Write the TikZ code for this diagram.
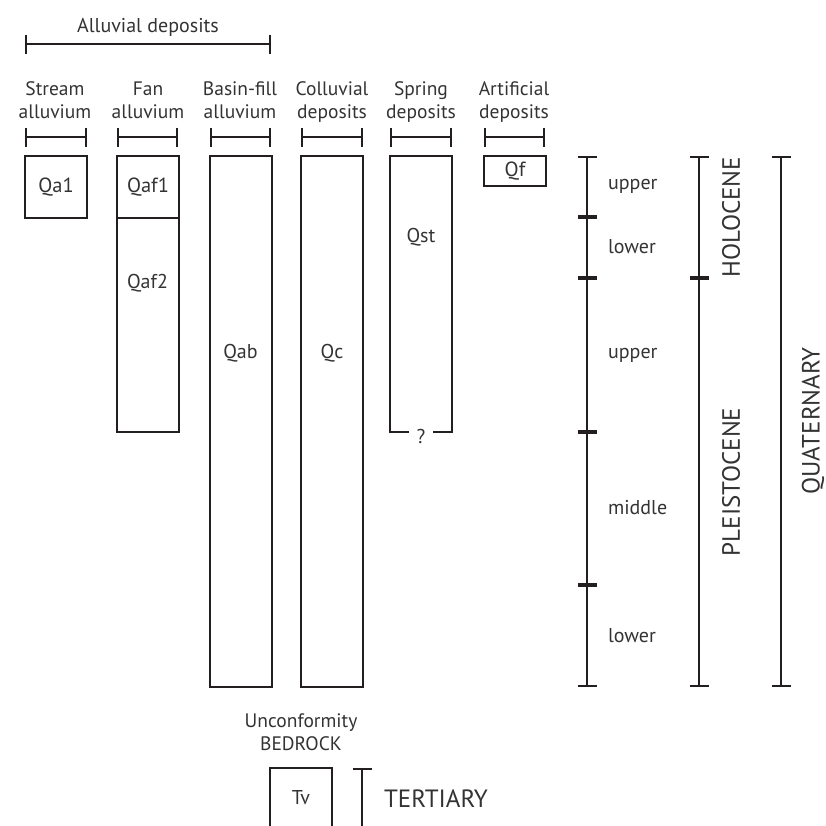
\documentclass[tikz,border=0pt]{standalone}
\usepackage{fontspec}
\setmainfont{PT Sans}
\usetikzlibrary{arrows.meta}
\definecolor{inkline}{HTML}{231F20}
\definecolor{inktext}{HTML}{333333}

\begin{document}
\begin{tikzpicture}[
  x=1pt, y=-1pt,
  line width=2.2pt, draw=inkline,
  lbl/.style={font=\fontsize{20}{20}\selectfont, text=inktext, align=center, inner sep=0pt},
  headlbl/.style={font=\fontsize{19.5}{23}\selectfont, text=inktext, align=center, inner sep=0pt, anchor=base},
  biglbl/.style={font=\fontsize{25}{28}\selectfont, text=inktext, inner sep=0pt},
  colbox/.style={draw=inkline, minimum width=62pt, inner sep=0pt, outer sep=0pt, text=inktext, font=\fontsize{20.5}{22}\selectfont},
  hbar/.style={{Bar[width=19pt]}-{Bar[width=19pt]}},
  topbar/.style={{Bar[width=19pt]}-}
]
  \useasboundingbox (0,0) rectangle (826,825);

  %---------------- HEADERS ----------------%
  \node[lbl] (alluv) at (148,27) {Alluvial deposits};
  \draw[hbar] (25,44) -- (271,44);

  \node[headlbl] (h-stream) at (55,118) {Stream\\alluvium};
  \node[headlbl] (h-fan) at (148,118) {Fan\\alluvium};
  \node[headlbl] (h-basin) at (240,118) {Basin-fill\\alluvium};
  \node[headlbl] (h-coll) at (332,118) {Colluvial\\deposits};
  \node[headlbl] (h-spring) at (421,118) {Spring\\deposits};
  \node[headlbl] (h-art) at (514,118) {Artificial\\deposits};

  \foreach \xa/\xb in {25/87, 117/178, 210/271, 301/363, 390/452, 484/545}
    \draw[hbar] (\xa,137) -- (\xb,137);

  %---------------- UNITS ----------------%
  \node[colbox, minimum height=62pt, anchor=north west] (qa1) at (25,156) {Qa1};
  \node[colbox, minimum height=62pt, anchor=north west] (qaf1) at (117,156) {Qaf1};
  \node[colbox, minimum height=214pt, anchor=north west] (qaf2) at (117,218) {};
  \node[lbl] (qaf2-l) at (147.5,283) {Qaf2};
  \node[colbox, minimum height=531pt, anchor=north west] (qab) at (210,156) {};
  \node[lbl] (qab-l) at (240.5,353) {Qab};
  \node[colbox, minimum height=531pt, anchor=north west] (qc) at (301,156) {};
  \node[lbl] (qc-l) at (332,353) {Qc};
  \draw (409,432) -- (390,432) -- (390,156) -- (452,156) -- (452,432) -- (433,432);
  \node[lbl] (qst-l) at (421,237) {Qst};
  \node[lbl] (qst-q) at (421,436) {?};
  \node[colbox, minimum height=30pt, anchor=north west] (qf) at (484,156) {Qf};

  %---------------- TIME SCALE ----------------%
  \foreach \ya/\yb in {156/217, 217/278, 278/432, 432/585, 585/687}
    \draw[hbar] (587,\ya) -- (587,\yb);
  \node[lbl, anchor=west] (t-up1) at (607,186) {upper};
  \node[lbl, anchor=west] (t-lo1) at (607,247) {lower};
  \node[lbl, anchor=west] (t-up2) at (607,355) {upper};
  \node[lbl, anchor=west] (t-mid) at (607,508) {middle};
  \node[lbl, anchor=west] (t-lo2) at (607,636) {lower};

  \draw[hbar] (699,156) -- (699,278);
  \draw[hbar] (699,278) -- (699,687);
  \node[biglbl, rotate=90] (holo) at (731,217) {HOLOCENE};
  \node[biglbl, rotate=90] (pleist) at (731,482) {PLEISTOCENE};

  \draw[hbar] (781,156) -- (781,687);
  \node[biglbl, rotate=90] (quat) at (813,421) {QUATERNARY};

  %---------------- BEDROCK ----------------%
  \node[headlbl] (uncon) at (301,750) {Unconformity\\BEDROCK};
  \draw (270,826) -- (270,768) -- (332,768) -- (332,826);
  \node[lbl] (tv) at (301,798) {Tv};
  \draw[topbar] (362,768) -- (362,826);
  \node[biglbl, anchor=west] (tert) at (383,799) {TERTIARY};
\end{tikzpicture}
\end{document}
